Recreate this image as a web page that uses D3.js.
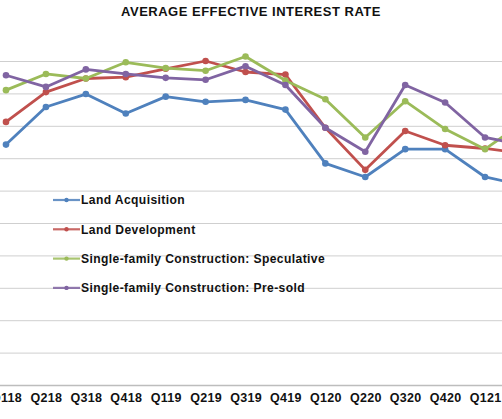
<!DOCTYPE html>
<html>
<head>
<meta charset="utf-8">
<script src="https://cdn.jsdelivr.net/npm/d3@7"></script>
<style>
  html, body { margin: 0; padding: 0; background: #fff; overflow: hidden; }
  svg { display: block; font-family: "Liberation Sans", Arial, sans-serif; }
</style>
</head>
<body>
<svg id="chart" width="502" height="419"></svg>
<script>
const quarters = ["Q118","Q218","Q318","Q418","Q119","Q219","Q319","Q419","Q120","Q220","Q320","Q420","Q121","Q221"];
const landAcquisition = [8.71, 9.29, 9.49, 9.19, 9.45, 9.37, 9.40, 9.25, 8.42, 8.21, 8.64, 8.64, 8.21, 8.08];
const landDevelopment = [9.06, 9.52, 9.73, 9.75, 9.88, 10.00, 9.83, 9.79, 8.97, 8.32, 8.92, 8.70, 8.65, 8.57];
const sfSpeculative   = [9.55, 9.80, 9.73, 9.98, 9.89, 9.85, 10.07, 9.70, 9.41, 8.82, 9.38, 8.95, 8.64, 9.07];
const sfPreSold       = [9.78, 9.60, 9.87, 9.80, 9.74, 9.71, 9.92, 9.63, 8.97, 8.60, 9.63, 9.36, 8.82, 8.70];
const seriesNames = ["Land Acquisition", "Land Development", "Single-family Construction: Speculative", "Single-family Construction: Pre-sold"];
const seriesColors = ["#4F81BD", "#C0504D", "#9BBB59", "#8064A2"];
const yTicks = [5.0, 5.5, 6.0, 6.5, 7.0, 7.5, 8.0, 8.5, 9.0, 9.5, 10.0];
const title = "AVERAGE EFFECTIVE INTEREST RATE";

const series = [landAcquisition, landDevelopment, sfSpeculative, sfPreSold].map((vals, i) => ({
  name: seriesNames[i], color: seriesColors[i],
  values: vals.map((v, j) => ({ q: quarters[j], v }))
}));

const svg = d3.select("#chart");
const x = d3.scalePoint().domain(quarters).range([6, 6 + 13 * 39.92]);
const y = d3.scaleLinear().domain([5, 10]).range([385, 61]);

// gridlines
svg.append("g").selectAll("line").data(yTicks).join("line")
  .attr("x1", 0).attr("x2", 502)
  .attr("y1", d => y(d) + 0.5).attr("y2", d => y(d) + 0.5)
  .attr("stroke", d => d === 5 ? "#bdbdbd" : "#cfcfcf").attr("stroke-width", d => d === 5 ? 1.5 : 1);

// title
svg.append("text").attr("x", 251).attr("y", 15.5).attr("text-anchor", "middle")
  .attr("font-size", 13).attr("font-weight", "bold").attr("fill", "#111")
  .attr("letter-spacing", 0.5).text(title);

// x axis labels
const xAxis = d3.axisBottom(x).tickSize(0).tickPadding(0);
const gx = svg.append("g").attr("transform", "translate(0,393)").call(xAxis);
gx.select(".domain").remove();
gx.selectAll("text").attr("font-size", 12.5).attr("font-weight", "bold")
  .attr("fill", "#111").attr("font-family", "Liberation Sans, Arial, sans-serif").attr("letter-spacing", 0.3);

// lines
const line = d3.line().x(d => x(d.q)).y(d => y(d.v));
const g = svg.append("g");
series.forEach(s => {
  g.append("path").datum(s.values).attr("d", line)
    .attr("fill", "none").attr("stroke", s.color).attr("stroke-width", 2.8)
    .attr("stroke-linejoin", "round");
  g.selectAll(null).data(s.values).join("circle")
    .attr("cx", d => x(d.q)).attr("cy", d => y(d.v)).attr("r", 3.3)
    .attr("fill", s.color);
});

// legend
const legend = svg.append("g");
series.forEach((s, i) => {
  const ly = 200 + i * 29.3;
  legend.append("line").attr("x1", 53).attr("x2", 80).attr("y1", ly).attr("y2", ly)
    .attr("stroke", s.color).attr("stroke-width", 2.2).attr("opacity", 0.85);
  legend.append("circle").attr("cx", 66.5).attr("cy", ly).attr("r", 2.2).attr("fill", s.color);
  legend.append("text").attr("x", 81).attr("y", ly + 4.4)
    .attr("font-size", 12.1).attr("font-weight", "bold").attr("fill", "#111")
    .attr("letter-spacing", 0.4).text(s.name);
});
</script>
</body>
</html>
